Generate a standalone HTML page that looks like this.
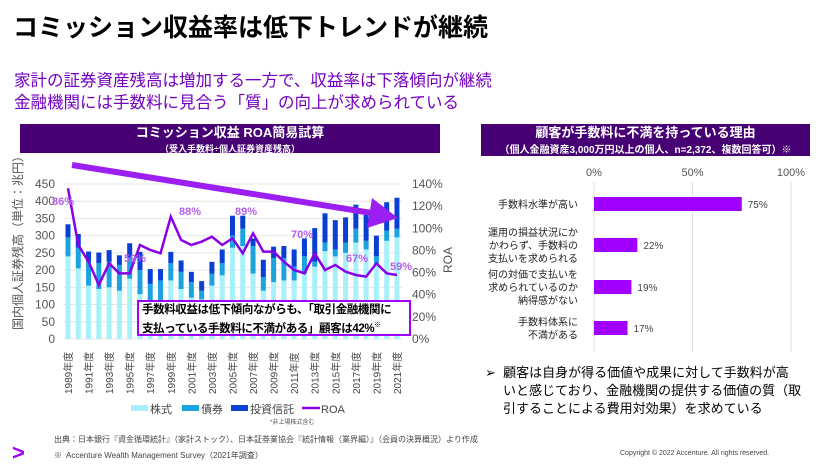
<!DOCTYPE html><html><head><meta charset="utf-8"><style>
body{margin:0;width:822px;height:466px;background:#fff;overflow:hidden;font-family:"Liberation Sans","Noto Sans CJK JP",sans-serif;position:relative}
.a{position:absolute;white-space:nowrap}
</style></head><body>
<div class="a" style="left:13px;top:8px;font-size:25px;font-weight:bold;color:#000">コミッション収益率は低下トレンドが継続</div>
<div class="a" style="left:14px;top:70px;font-size:16.5px;color:#7500c0;line-height:22px">家計の証券資産残高は増加する一方で、収益率は下落傾向が継続<br>金融機関には手数料に見合う「質」の向上が求められている</div>
<div class="a" style="left:20px;top:124px;width:420px;height:28px;background:#460073;color:#fff;text-align:center;font-weight:bold;font-size:13px;line-height:15px;padding-top:1px">コミッション収益 ROA簡易試算<br><span style="font-size:9px">（受入手数料÷個人証券資産残高）</span></div>
<div class="a" style="left:481px;top:124px;width:329px;height:31px;background:#460073;color:#fff;text-align:center;font-weight:bold;font-size:13px;line-height:16px;padding-top:1px">顧客が手数料に不満を持っている理由<br><span style="font-size:10px">（個人金融資産3,000万円以上の個人、n=2,372、複数回答可）※</span></div>
<svg id="s" class="a" style="left:0;top:0" width="822" height="466"></svg>
<div class="a" style="left:137px;top:300px;width:267px;height:31px;border:2px solid #a100ff;background:#fff;font-size:11.5px;letter-spacing:-0.4px;font-weight:bold;line-height:15px;padding-left:3px;padding-top:1px;overflow:hidden">手数料収益は低下傾向ながらも、「取引金融機関に<br>支払っている手数料に不満がある」顧客は42%<sup style="font-size:7px">※</sup></div>
<div class="a" style="left:485px;top:364px;font-size:13px;line-height:18px;color:#000">➢&nbsp; 顧客は自身が得る価値や成果に対して手数料が高<br>&nbsp;&nbsp;&nbsp;&nbsp;&nbsp;いと感じており、金融機関の提供する価値の質（取<br>&nbsp;&nbsp;&nbsp;&nbsp;&nbsp;引することによる費用対効果）を求めている</div>
<div class="a" style="left:54px;top:434px;font-size:8px;color:#444">出典：日本銀行『資金循環統計』（家計ストック）、日本証券業協会『統計情報（業界編）』（会員の決算概況）より作成</div>
<div class="a" style="left:54px;top:450px;font-size:8px;color:#444">※&nbsp; Accenture Wealth Management Survey（2021年調査）</div>
<div class="a" style="left:12px;top:440px;font-size:22px;font-weight:bold;color:#a100ff">&gt;</div>
<div class="a" style="left:620px;top:450px;font-size:7px;color:#444">Copyright © 2022 Accenture. All rights reserved.</div>
<script>
var s=document.getElementById('s'),h='';
var tot=[333,305,254,251,258,243,278,253,203,203,253,228,195,168,224,260,358,358,292,230,268,270,260,292,322,365,345,353,390,360,300,397,410];
var bnd=[295,265,225,220,225,215,235,200,160,170,220,195,165,140,190,220,300,320,270,180,235,235,210,240,225,280,260,280,320,285,240,315,320];
var stk=[240,205,155,145,150,140,175,130,100,105,170,145,120,115,155,185,265,270,190,140,165,170,170,190,210,255,240,250,280,260,215,285,295];
var roa=[205,375,425,495,430,460,460,375,390,400,290,360,375,365,350,375,355,400,340,395,395,425,450,460,400,450,435,455,465,470,430,460,465];
function Y(v){return 339-v*155/450}
for(var k=0;k<=9;k++){var y=Y(k*50);h+='<line x1="63" x2="402" y1="'+y+'" y2="'+y+'" stroke="#e6e6e6"/>';h+='<text x="55" y="'+(y+4)+'" font-size="12" fill="#555" text-anchor="end">'+k*50+'</text>'}
for(k=0;k<=7;k++){var y=339-k*155/7;h+='<text x="412" y="'+(y+4)+'" font-size="12" fill="#555">'+k*20+'%</text>'}
var pts=[];
for(var i=0;i<33;i++){var cx=68+i*10.28;
h+='<rect x="'+(cx-2.5)+'" y="'+Y(stk[i])+'" width="5" height="'+(339-Y(stk[i]))+'" fill="#a8f0fa"/>';
h+='<rect x="'+(cx-2.5)+'" y="'+Y(bnd[i])+'" width="5" height="'+(Y(stk[i])-Y(bnd[i]))+'" fill="#1ba3e0"/>';
h+='<rect x="'+(cx-2.5)+'" y="'+Y(tot[i])+'" width="5" height="'+(Y(bnd[i])-Y(tot[i]))+'" fill="#0a3fd6"/>';
pts.push(cx+','+(120+roa[i]/3));
if(i%2==0)h+='<text transform="translate('+(cx+4)+',394) rotate(-90)" font-size="10" fill="#444">'+(1989+i)+'年度</text>';}
h+='<polyline points="'+pts.join(' ')+'" fill="none" stroke="#8a00e6" stroke-width="2.5"/>';
[[52,205,'86%'],[124,262,'59%'],[179,215,'88%'],[235,215,'89%'],[291,238,'70%'],[346,262,'67%'],[390,270,'59%']].forEach(function(l){h+='<text x="'+l[0]+'" y="'+l[1]+'" font-size="11" font-weight="bold" fill="#b45ff0">'+l[2]+'</text>'});
h+='<line x1="72" y1="165" x2="378" y2="214" stroke="#9b1ff0" stroke-width="6"/><polygon points="372,198 398,218 367,228" fill="#9b1ff0"/>';
h+='<text transform="translate(22,330) rotate(-90)" font-size="12" fill="#555">国内個人証券残高（単位：兆円）</text>';
h+='<text transform="translate(452,273) rotate(-90)" font-size="12" fill="#555">ROA</text>';
var lg=[[131,'#a8f0fa','株式'],[182,'#1ba3e0','債券'],[231,'#0a3fd6','投資信託']];
lg.forEach(function(l){h+='<rect x="'+l[0]+'" y="405" width="17" height="6" fill="'+l[1]+'"/><text x="'+(l[0]+19)+'" y="413" font-size="11" fill="#444">'+l[2]+'</text>'});
h+='<line x1="302" x2="320" y1="408" y2="408" stroke="#8a00e6" stroke-width="2.5"/><text x="321" y="413" font-size="11" fill="#444">ROA</text>';
h+='<text x="270" y="424" font-size="6" fill="#555">*非上場株式含む</text>';
for(k=0;k<3;k++){var x=594+k*98.5;h+='<line x1="'+x+'" x2="'+x+'" y1="182" y2="352" stroke="#e0e0e0"/><text x="'+x+'" y="176" font-size="11" fill="#555" text-anchor="middle">'+k*50+'%</text>'}
var rb=[[204,75,['手数料水準が高い']],[245,22,['運用の損益状況にか','かわらず、手数料の','支払いを求められる']],[287,19,['何の対価で支払いを','求められているのか','納得感がない']],[328,17,['手数料体系に','不満がある']]];
rb.forEach(function(b){var w=b[1]*1.97;h+='<rect x="594" y="'+(b[0]-7)+'" width="'+w+'" height="14" fill="#a100ff"/><text x="'+(600+w)+'" y="'+(b[0]+4)+'" font-size="10" fill="#444">'+b[1]+'%</text>';
var n=b[2].length;b[2].forEach(function(t,j){h+='<text x="578" y="'+(b[0]+4+(j-(n-1)/2)*13)+'" font-size="10" fill="#222" text-anchor="end">'+t+'</text>'})});
s.innerHTML=h;
</script>
</body></html>
